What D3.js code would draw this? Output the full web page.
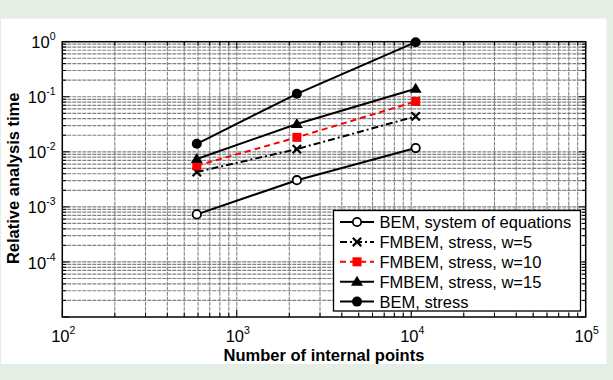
<!DOCTYPE html>
<html>
<head>
<meta charset="utf-8">
<script src="https://cdn.jsdelivr.net/npm/d3@7"></script>
<style>
  html, body { margin: 0; padding: 0; background: #e4eee4; }
  svg { display: block; }
</style>
</head>
<body>
<script>
// Number of internal points (x) and relative analysis time for each method
const internalPoints = [590, 2210, 10600];
const bemSystem     = [0.00073, 0.00305, 0.0117];
const fmbemW5       = [0.0043, 0.0112, 0.044];
const fmbemW10      = [0.0056, 0.0183, 0.082];
const fmbemW15      = [0.0074, 0.032, 0.14];
const bemStress     = [0.014, 0.113, 0.98];

const seriesNames = [
  "BEM, system of equations",
  "FMBEM, stress, w=5",
  "FMBEM, stress, w=10",
  "FMBEM, stress, w=15",
  "BEM, stress"
];
const xTickExponents = [2, 3, 4, 5];
const yTickExponents = [0, -1, -2, -3, -4];

const W = 613, H = 380;
const svg = d3.select("body").append("svg").attr("width", W).attr("height", H);

// background and white panel
svg.append("rect").attr("width", W).attr("height", H).attr("fill", "#e4eee4");
svg.append("rect").attr("x", 1).attr("y", 18.5).attr("width", 605.5).attr("height", 345.5).attr("fill", "#ffffff");

const L = 62.3, R = 585.7, T = 41.7, B = 317;
const x = d3.scaleLog().domain([1e2, 1e5]).range([L, R]);
const y = d3.scaleLog().domain([1e-5, 1]).range([B, T]);

const FONT = "'Liberation Sans', Arial, Helvetica, sans-serif";

// all grid values (decades and their 2..9 multiples)
function logValues(lo, hi) {
  const out = [];
  for (let e = lo; e < hi; e++) for (let m = 1; m < 10; m++) out.push(m * Math.pow(10, e));
  out.push(Math.pow(10, hi));
  return out;
}
const xVals = logValues(2, 5);
const yVals = logValues(-5, 0);

const grid = svg.append("g");
grid.selectAll("line.gx").data(xVals.filter(v => v > 100 && v < 1e5)).join("line")
  .attr("x1", d => x(d)).attr("x2", d => x(d)).attr("y1", T).attr("y2", B)
  .attr("stroke", "#777").attr("stroke-width", 1).attr("stroke-dasharray", "4,1");
grid.selectAll("line.gy").data(yVals.filter(v => v > 1e-5 && v < 1)).join("line")
  .attr("x1", L).attr("x2", R).attr("y1", d => y(d)).attr("y2", d => y(d))
  .attr("stroke", "#808080").attr("stroke-width", 1.2).attr("stroke-dasharray", "4,1");

// ticks inside on all four sides
const ticks = svg.append("g").attr("stroke", "#000").attr("stroke-width", 1);
xVals.forEach(v => {
  const major = Math.abs(Math.log10(v) - Math.round(Math.log10(v))) < 1e-9;
  const len = major ? 7 : 4;
  const px = x(v);
  ticks.append("line").attr("x1", px).attr("x2", px).attr("y1", B).attr("y2", B - len);
  ticks.append("line").attr("x1", px).attr("x2", px).attr("y1", T).attr("y2", T + len);
});
yVals.forEach(v => {
  const major = Math.abs(Math.log10(v) - Math.round(Math.log10(v))) < 1e-9;
  const len = major ? 7 : 4;
  const py = y(v);
  ticks.append("line").attr("y1", py).attr("y2", py).attr("x1", L).attr("x2", L + len);
  ticks.append("line").attr("y1", py).attr("y2", py).attr("x1", R).attr("x2", R - len);
});

// axes box
svg.append("rect").attr("x", L).attr("y", T).attr("width", R - L).attr("height", B - T)
  .attr("fill", "none").attr("stroke", "#000").attr("stroke-width", 1.5);

// tick labels 10^n
function powLabel(sel, e) {
  sel.append("tspan").text("10");
  sel.append("tspan").attr("font-size", 10.5).attr("dy", -8).text(String(e));
}
xTickExponents.forEach(e => {
  const t = svg.append("text").attr("x", x(Math.pow(10, e)) + 1).attr("y", 341.5)
    .attr("text-anchor", "middle").attr("font-family", FONT).attr("font-size", 16.5).attr("fill", "#000");
  powLabel(t, e);
});
yTickExponents.forEach(e => {
  const t = svg.append("text").attr("x", 55.5).attr("y", y(Math.pow(10, e)) + 6.6)
    .attr("text-anchor", "end").attr("font-family", FONT).attr("font-size", 16.5).attr("fill", "#000");
  powLabel(t, e);
});

// axis titles
svg.append("text").attr("x", (L + R) / 2).attr("y", 361)
  .attr("text-anchor", "middle").attr("font-family", FONT).attr("font-weight", "bold")
  .attr("font-size", 16.5).text("Number of internal points");
svg.append("text").attr("transform", `translate(19,${(T + B) / 2 - 1}) rotate(-90)`)
  .attr("text-anchor", "middle").attr("font-family", FONT).attr("font-weight", "bold")
  .attr("font-size", 16.5).text("Relative analysis time");

// series definitions
const series = [
  { name: seriesNames[0], values: bemSystem, color: "#000", dash: null, marker: "open" },
  { name: seriesNames[1], values: fmbemW5,   color: "#000", dash: "7,3,2,3", marker: "x" },
  { name: seriesNames[2], values: fmbemW10,  color: "#f00", dash: "6,4", marker: "square" },
  { name: seriesNames[3], values: fmbemW15,  color: "#000", dash: null, marker: "triangle" },
  { name: seriesNames[4], values: bemStress, color: "#000", dash: null, marker: "dot" }
];

function drawMarker(g, type, cx, cy, color) {
  if (type === "open") {
    g.append("circle").attr("cx", cx).attr("cy", cy).attr("r", 4.2)
      .attr("fill", "#fff").attr("stroke", color).attr("stroke-width", 1.8);
  } else if (type === "dot") {
    g.append("circle").attr("cx", cx).attr("cy", cy).attr("r", 5).attr("fill", color);
  } else if (type === "square") {
    g.append("rect").attr("x", cx - 4.5).attr("y", cy - 4.5).attr("width", 9).attr("height", 9).attr("fill", color);
  } else if (type === "triangle") {
    g.append("path").attr("d", `M${cx},${cy - 6} L${cx + 6},${cy + 4} L${cx - 6},${cy + 4} Z`).attr("fill", color);
  } else if (type === "x") {
    const s = 4.2;
    g.append("path").attr("d", `M${cx - s},${cy - s} L${cx + s},${cy + s} M${cx + s},${cy - s} L${cx - s},${cy + s}`)
      .attr("stroke", color).attr("stroke-width", 2.2).attr("fill", "none");
  }
}

const line = d3.line().x(d => x(d[0])).y(d => y(d[1]));
const plot = svg.append("g");
series.forEach(s => {
  const pts = internalPoints.map((p, i) => [p, s.values[i]]);
  plot.append("path").datum(pts).attr("d", line).attr("fill", "none")
    .attr("stroke", s.color).attr("stroke-width", 2)
    .attr("stroke-dasharray", s.dash);
  const mg = plot.append("g");
  pts.forEach(p => drawMarker(mg, s.marker, x(p[0]), y(p[1]), s.color));
});

// legend
const lg = svg.append("g");
lg.append("rect").attr("x", 333.5).attr("y", 210.5).attr("width", 247).attr("height", 100.5)
  .attr("fill", "#fff").attr("stroke", "#000").attr("stroke-width", 1.3);
series.forEach((s, i) => {
  const cy = 222 + i * 19.9;
  lg.append("line").attr("x1", 340).attr("x2", 374).attr("y1", cy).attr("y2", cy)
    .attr("stroke", s.color).attr("stroke-width", 2).attr("stroke-dasharray", s.dash);
  drawMarker(lg, s.marker, 357, cy, s.color);
  lg.append("text").attr("x", 379.5).attr("y", cy + 6).attr("font-family", FONT)
    .attr("font-size", 16.5).attr("fill", "#000").text(s.name);
});
</script>
</body>
</html>
